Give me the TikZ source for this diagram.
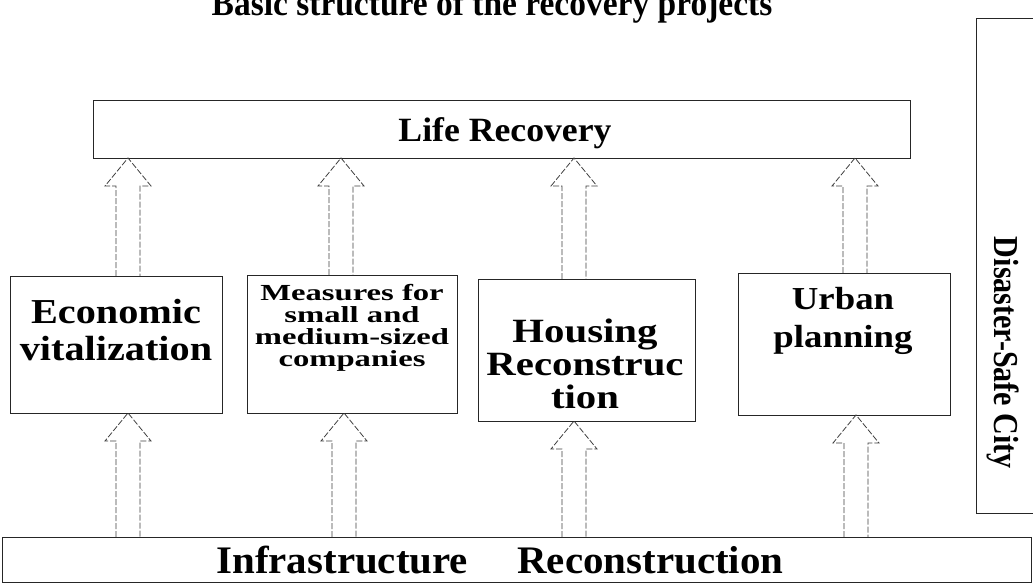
\documentclass[tikz,border=0pt]{standalone}
\usepackage{fontspec}
\setmainfont{Liberation Serif}
\newfontfamily\fTitle[FakeStretch=0.93]{Liberation Serif}
\newfontfamily\fLife[FakeStretch=1.05]{Liberation Serif}
\newfontfamily\fBox[FakeStretch=1.15]{Liberation Serif}
\newfontfamily\fHous[FakeStretch=1.2]{Liberation Serif}
\newfontfamily\fSmall[FakeStretch=1.42]{Liberation Serif}
\newfontfamily\fSide[FakeStretch=0.86]{Liberation Serif}
\usetikzlibrary{calc}
\tikzset{
  box/.style={draw=black!85, line width=0.9pt, rectangle, inner sep=0pt, outer sep=0pt, anchor=north west},
  txt/.style={inner sep=0pt, outer sep=0pt, align=center, text=black},
  barrow/.style={draw=black!75, line width=0.8pt, dash pattern=on 6pt off 2pt, line join=miter}
}
\newcommand\blockarrow[3]{%
  \draw[barrow] let \p1=(#2.north), \p2=(#3.south) in
   (#1pt-12pt,\y1) -- (#1pt-12pt,\y2-28pt) -- (#1pt-23pt,\y2-28pt) -- (#1pt,\y2)
   -- (#1pt+23pt,\y2-28pt) -- (#1pt+12pt,\y2-28pt) -- (#1pt+12pt,\y1);}
\begin{document}
\begin{tikzpicture}[x=1pt,y=-1pt]
\fill[white] (0,0) rectangle (1033,586);
\useasboundingbox (0,0) rectangle (1033,586);

% title (cut at top)
\node[txt, anchor=base, font={\fTitle\bfseries\fontsize{36}{36}\selectfont}] (title) at (492,16) {Basic structure of the recovery projects};

% boxes
\node[box, minimum width=817pt, minimum height=58pt] (life) at (93,100) {};
\node[box, minimum width=212pt, minimum height=137pt] (econ) at (10,276) {};
\node[box, minimum width=210pt, minimum height=138pt] (meas) at (247,275) {};
\node[box, minimum width=217pt, minimum height=142pt] (hous) at (478,279) {};
\node[box, minimum width=212pt, minimum height=142pt] (urban) at (738,273) {};
\node[box, minimum width=1029pt, minimum height=45pt] (infra) at (2,537) {};
\node[box, minimum width=70pt, minimum height=495pt] (city) at (976,18) {};

% texts
\node[txt, anchor=base, font={\fLife\bfseries\fontsize{34}{34}\selectfont}] (lifet) at (505,141) {Life Recovery};
\node[txt, font={\fBox\bfseries\fontsize{35}{37}\selectfont\lineskiplimit=-50pt}] (econt) at (116,330) {Economic\\vitalization};
\node[txt, font={\fSmall\bfseries\fontsize{23}{22}\selectfont\lineskiplimit=-50pt}] (meast) at (352,328) {Measures for\\small and\\medium-sized\\companies};
\node[txt, font={\fHous\bfseries\fontsize{34}{33}\selectfont\lineskiplimit=-50pt}] (houst) at (585,364) {Housing\\Reconstruc\\tion};
\node[txt, font={\fBox\bfseries\fontsize{32}{38}\selectfont\lineskiplimit=-50pt}] (urbant) at (843,321) {Urban\\planning};
\node[txt, anchor=base, font={\fLife\bfseries\fontsize{39}{39}\selectfont}] (infrat) at (500,573) {Infrastructure\hspace{1em} Reconstruction};
\node[txt, rotate=-90, font={\fSide\bfseries\fontsize{35}{35}\selectfont}] (cityt) at (1003,353) {Disaster-Safe City};

% block arrows up to Life Recovery
\blockarrow{128}{econ}{life}
\blockarrow{341}{meas}{life}
\blockarrow{574}{hous}{life}
\blockarrow{855}{urban}{life}
% block arrows from Infrastructure
\blockarrow{128}{infra}{econ}
\blockarrow{344}{infra}{meas}
\blockarrow{574}{infra}{hous}
\blockarrow{856}{infra}{urban}
\end{tikzpicture}
\end{document}
